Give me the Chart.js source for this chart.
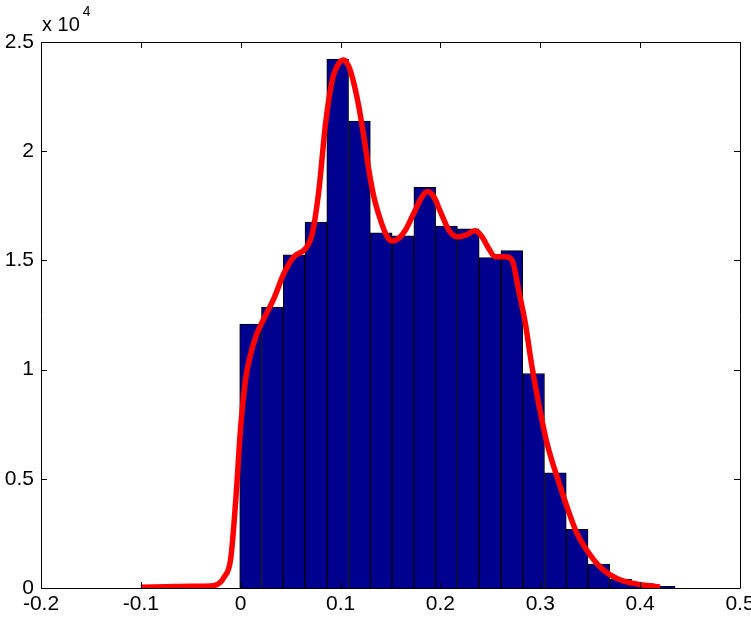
<!DOCTYPE html>
<html>
<head>
<meta charset="utf-8">
<script src="https://cdn.jsdelivr.net/npm/chart.js@4/dist/chart.umd.min.js"></script>
<style>
  html, body { margin: 0; padding: 0; background: #ffffff; }
  #wrap { position: relative; width: 751px; height: 621px; }
</style>
</head>
<body>
<div id="wrap"><canvas id="c" width="751" height="621"></canvas></div>
<script>
// Histogram bin centres (x) and counts
const binCenters = [0.0099, 0.0317, 0.0535, 0.0753, 0.0971, 0.1189, 0.1407, 0.1625, 0.1843, 0.2061,
                    0.2279, 0.2497, 0.2715, 0.2933, 0.3151, 0.3369, 0.3587, 0.3805, 0.4023, 0.4241];
const binCounts  = [12080, 12860, 15250, 16750, 24220, 21380, 16260, 16120, 18350, 16570,
                    16440, 15130, 15450, 9820, 5270, 2690, 1100, 410, 200, 80];

// Smoothed density curve (red line)
const curveX = [-0.100, -0.075, -0.050, -0.030, -0.022, -0.017, -0.010, -0.005, 0.000, 0.005, 0.0083, 0.015,
                0.0217, 0.0333, 0.0433, 0.0533, 0.065, 0.0717, 0.0783, 0.085, 0.0917, 0.0983, 0.1033,
                0.1083, 0.1133, 0.1183, 0.1233, 0.1283, 0.1333, 0.140, 0.1467, 0.1517, 0.1583, 0.165,
                0.1733, 0.1817, 0.1867, 0.1933, 0.200, 0.2083, 0.2167, 0.225, 0.235, 0.2417, 0.2483,
                0.255, 0.265, 0.2717, 0.2783, 0.285, 0.2917, 0.2983, 0.3067, 0.3167, 0.3267, 0.3367,
                0.350, 0.3633, 0.3767, 0.3933, 0.4167, 0.420];
const curveY = [40, 60, 80, 90, 200, 470, 1350, 4000, 7400, 9600, 10400, 11500,
                12190, 13260, 14410, 15170, 15550, 16240, 18220, 21280, 23260, 24030, 24180,
                23870, 23110, 22040, 20660, 19140, 17920, 16850, 16080, 15890, 16010, 16390,
                17160, 17920, 18150, 17920, 17230, 16390, 16080, 16160, 16360, 16080, 15550,
                15170, 15170, 15020, 13640, 12120, 10130, 8460, 6630, 5100, 3720, 2500,
                1510, 820, 440, 210, 60, 40];

// Axis ticks
const xTicks = [-0.2, -0.1, 0, 0.1, 0.2, 0.3, 0.4, 0.5];
const yTicks = [0, 5000, 10000, 15000, 20000, 25000];
const yMultiplierBase = 'x 10';
const yMultiplierExp = '4';

const FONT = 'Liberation Sans, Arial, Helvetica, sans-serif';

const boxPlugin = {
  id: 'matlabBox',
  afterDatasetsDraw(chart) {
    const ctx = chart.ctx;
    const a = chart.chartArea;
    const xs = chart.scales.x, ys = chart.scales.y;
    ctx.save();
    ctx.strokeStyle = '#000000';
    ctx.lineWidth = 1;
    ctx.beginPath();
    ctx.rect(Math.round(a.left) + 0.5, Math.round(a.top) + 0.5,
             Math.round(a.right - a.left), Math.round(a.bottom - a.top));
    ctx.stroke();
    const tl = 6;
    ctx.beginPath();
    xTicks.forEach(v => {
      const px = Math.round(xs.getPixelForValue(v)) + 0.5;
      ctx.moveTo(px, a.bottom); ctx.lineTo(px, a.bottom - tl);
      ctx.moveTo(px, a.top); ctx.lineTo(px, a.top + tl);
    });
    yTicks.forEach(v => {
      const py = Math.round(ys.getPixelForValue(v)) + 0.5;
      ctx.moveTo(a.left, py); ctx.lineTo(a.left + tl, py);
      ctx.moveTo(a.right, py); ctx.lineTo(a.right - tl, py);
    });
    ctx.stroke();
    // multiplier label
    ctx.fillStyle = '#000000';
    ctx.textAlign = 'left';
    ctx.textBaseline = 'alphabetic';
    ctx.font = '20px ' + FONT;
    ctx.fillText(yMultiplierBase, a.left + 1, 31);
    const w = ctx.measureText(yMultiplierBase).width;
    ctx.font = '14px ' + FONT;
    ctx.fillText(yMultiplierExp, a.left + 1 + w + 3, 16);
    ctx.restore();
  }
};

const chart = new Chart(document.getElementById('c'), {
  type: 'bar',
  data: {
    datasets: [
      {
        type: 'line',
        data: curveX.map((x, i) => ({ x: x, y: curveY[i] })),
        borderColor: '#FF0000',
        borderWidth: 5.5,
        pointRadius: 0,
        fill: false,
        cubicInterpolationMode: 'monotone',
        borderCapStyle: 'butt',
        borderJoinStyle: 'round',
        order: 0
      },
      {
        type: 'bar',
        data: binCenters.map((x, i) => ({ x: x, y: binCounts[i] })),
        backgroundColor: '#00008F',
        borderColor: '#000000',
        borderWidth: 1,
        borderSkipped: 'bottom',
        barPercentage: 1.0,
        categoryPercentage: 1.0,
        order: 1
      }
    ]
  },
  options: {
    responsive: false,
    animation: false,
    devicePixelRatio: 1,
    layout: { padding: { top: 42, right: 11, left: 0, bottom: 0 } },
    plugins: { legend: { display: false }, tooltip: { enabled: false } },
    scales: {
      x: {
        type: 'linear',
        min: -0.2, max: 0.5,
        offset: false,
        grid: { display: false, drawTicks: false, offset: false },
        border: { display: false },
        afterBuildTicks(s) { s.ticks = xTicks.map(v => ({ value: v })); },
        ticks: {
          autoSkip: false,
          maxRotation: 0,
          padding: 4,
          color: '#000000',
          font: { family: FONT, size: 21 },
          callback: v => String(Number(v.toFixed(1)))
        },
        afterFit(s) { s.height = 33; s.paddingLeft = 0; s.paddingRight = 0; }
      },
      y: {
        type: 'linear',
        min: 0, max: 25000,
        grid: { display: false, drawTicks: false },
        border: { display: false },
        afterBuildTicks(s) { s.ticks = yTicks.map(v => ({ value: v })); },
        ticks: {
          padding: 7,
          color: '#000000',
          font: { family: FONT, size: 21 },
          callback: v => String(Number((v / 10000).toFixed(1)))
        },
        afterFit(s) { s.width = 41; s.paddingTop = 0; s.paddingBottom = 0; }
      }
    }
  },
  plugins: [boxPlugin]
});
</script>
</body>
</html>
